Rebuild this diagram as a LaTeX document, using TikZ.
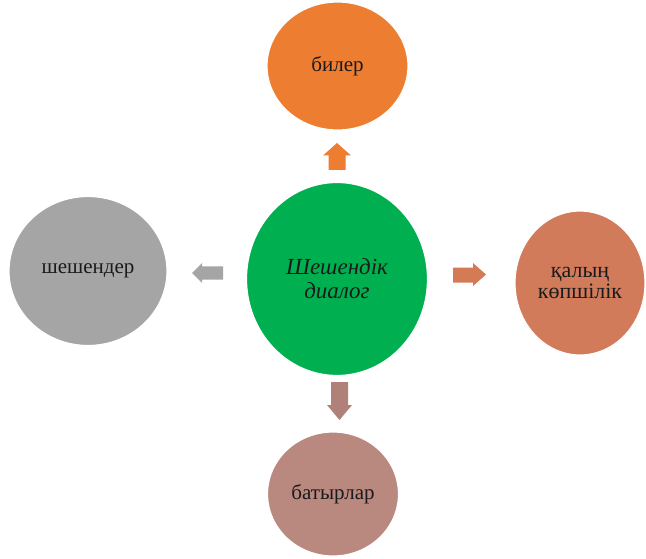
\documentclass[tikz,border=0pt]{standalone}
\usepackage{fontspec}
\setmainfont{Liberation Serif}
\usetikzlibrary{shapes.geometric}
\definecolor{corange}{HTML}{ED7D31}
\definecolor{cgreen}{HTML}{00B050}
\definecolor{ccoral}{HTML}{D27B5B}
\definecolor{cgray}{HTML}{A5A5A5}
\definecolor{crose}{HTML}{B9887F}
\definecolor{ctext}{HTML}{1A1A1A}
\tikzset{
  bubble/.style={ellipse, draw=white, line width=1.2pt, inner sep=0pt, align=center, text=ctext, font=\fontsize{21}{22}\selectfont},
}
\begin{document}
\begin{tikzpicture}[x=1pt,y=-1pt]
\useasboundingbox[fill=white] (0,0) rectangle (646,559);
\node[bubble, fill=cgreen, minimum width=181pt, minimum height=193pt, font=\fontsize{23}{24}\selectfont\itshape] (center) at (337,279) {Шешендік\\диалог};
\node[bubble, fill=corange, minimum width=141pt, minimum height=128pt] (top) at (337.5,66) {билер};
\node[bubble, fill=ccoral, minimum width=130pt, minimum height=144pt, font=\fontsize{22}{21}\selectfont] (right) at (580,283) {қалың\\көпшілік};
\node[bubble, fill=cgray, minimum width=158pt, minimum height=149pt] (left) at (88,271) {шешендер};
\node[bubble, fill=crose, minimum width=131pt, minimum height=124pt] (bottom) at (333,494) {батырлар};
% block arrows
\fill[corange] (323,155.5) -- (337,143) -- (351,155.5) -- (345.5,155.5) -- (345.5,170) -- (328.5,170) -- (328.5,155.5) -- cycle;
\fill[crose!95!black] (327,405) -- (339.5,420) -- (352,405) -- (348,405) -- (348,382) -- (331,382) -- (331,405) -- cycle;
\fill[ccoral!95!orange] (473,263) -- (486,274.5) -- (473,286) -- (473,282.5) -- (453,282.5) -- (453,267.5) -- (473,267.5) -- cycle;
\fill[cgray] (202,263) -- (192,273) -- (202,283) -- (202,279.5) -- (223,279.5) -- (223,266.5) -- (202,266.5) -- cycle;
\end{tikzpicture}
\end{document}
